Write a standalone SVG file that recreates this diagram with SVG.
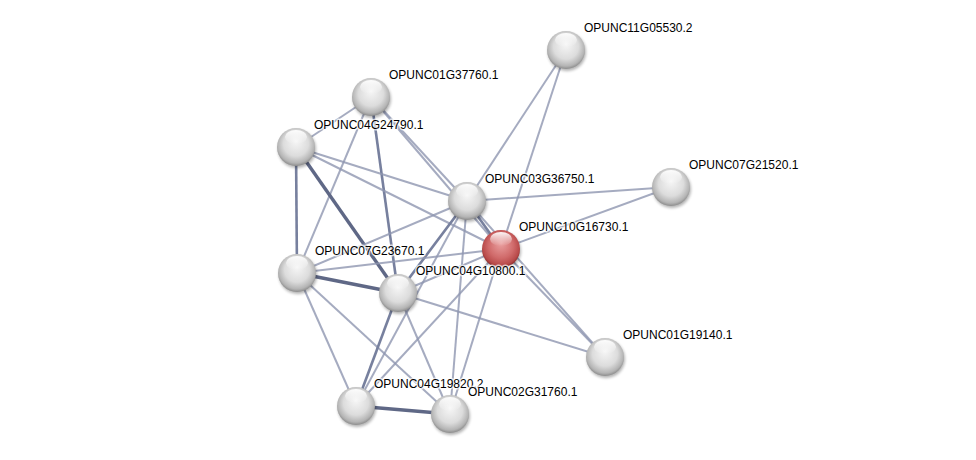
<svg xmlns="http://www.w3.org/2000/svg" width="976" height="460" viewBox="0 0 976 460">
<defs>
<radialGradient id="gBall" cx="50%" cy="45%" r="55%" fx="50%" fy="35%">
<stop offset="0" stop-color="#f6f6f6"/>
<stop offset="0.6" stop-color="#dcdcdc"/>
<stop offset="0.88" stop-color="#b4b4b4"/>
<stop offset="1" stop-color="#8c8c8c"/>
</radialGradient>
<radialGradient id="gRed" cx="50%" cy="45%" r="55%" fx="50%" fy="35%">
<stop offset="0" stop-color="#eaa0a0"/>
<stop offset="0.6" stop-color="#d06a6a"/>
<stop offset="0.88" stop-color="#b84a4a"/>
<stop offset="1" stop-color="#8a2c2c"/>
</radialGradient>
<linearGradient id="gHi" x1="0" y1="0" x2="0" y2="1">
<stop offset="0" stop-color="#ffffff" stop-opacity="0.95"/>
<stop offset="1" stop-color="#ffffff" stop-opacity="0"/>
</linearGradient>
<filter id="sh" x="-50%" y="-50%" width="200%" height="200%">
<feGaussianBlur stdDeviation="1.5"/>
</filter>
</defs>
<style>
.e{stroke:#8e96b0;stroke-width:2;stroke-opacity:0.8;fill:none}
.m{stroke:#77809e;stroke-width:2.6;fill:none}
.t{stroke:#5f6886;stroke-width:3.4;fill:none}
.sh{fill:#000;opacity:0.3;filter:url(#sh)}
.b{fill:url(#gBall)}
.r{fill:url(#gRed)}
.hi{fill:url(#gHi)}
.lb{font-family:"Liberation Sans",Arial,sans-serif;font-size:12px;fill:#000;stroke:#ffffff;stroke-width:3;stroke-opacity:0.7;paint-order:stroke;stroke-linejoin:round}
</style>
<rect width="976" height="460" fill="#ffffff"/>
<g id="edges">
<line class="e" x1="566" y1="50" x2="467" y2="201"/>
<line class="e" x1="566" y1="50" x2="501" y2="249"/>
<line class="e" x1="671" y1="187" x2="467" y2="201"/>
<line class="e" x1="671" y1="187" x2="501" y2="249"/>
<line class="e" x1="605" y1="357" x2="501" y2="249"/>
<line class="e" x1="605" y1="357" x2="467" y2="201"/>
<line class="e" x1="605" y1="357" x2="398" y2="293"/>
<line class="e" x1="371" y1="97" x2="296" y2="147"/>
<line class="e" x1="371" y1="97" x2="297" y2="273"/>
<line class="m" x1="371" y1="97" x2="398" y2="293"/>
<line class="e" x1="371" y1="97" x2="467" y2="201"/>
<line class="e" x1="371" y1="97" x2="501" y2="249"/>
<line class="e" x1="296" y1="147" x2="467" y2="201"/>
<line class="e" x1="296" y1="147" x2="501" y2="249"/>
<line class="t" x1="296" y1="147" x2="398" y2="293"/>
<line class="m" x1="296" y1="147" x2="297" y2="273"/>
<line class="m" x1="467" y1="201" x2="501" y2="249"/>
<line class="e" x1="467" y1="201" x2="297" y2="273"/>
<line class="m" x1="467" y1="201" x2="398" y2="293"/>
<line class="e" x1="467" y1="201" x2="356" y2="406"/>
<line class="e" x1="467" y1="201" x2="450" y2="414"/>
<line class="e" x1="501" y1="249" x2="297" y2="273"/>
<line class="e" x1="501" y1="249" x2="398" y2="293"/>
<line class="e" x1="501" y1="249" x2="356" y2="406"/>
<line class="e" x1="501" y1="249" x2="450" y2="414"/>
<line class="t" x1="297" y1="273" x2="398" y2="293"/>
<line class="e" x1="297" y1="273" x2="356" y2="406"/>
<line class="e" x1="297" y1="273" x2="450" y2="414"/>
<line class="m" x1="398" y1="293" x2="356" y2="406"/>
<line class="e" x1="398" y1="293" x2="450" y2="414"/>
<line class="t" x1="356" y1="406" x2="450" y2="414"/>
</g>
<g id="n11G05530">
<circle class="sh" cx="567" cy="52" r="19"/>
<circle class="b" cx="566" cy="50" r="19"/>
<ellipse class="hi" cx="566" cy="40" rx="11" ry="7"/>
<text class="lb" x="584" y="32">OPUNC11G05530.2</text>
</g>
<g id="n01G37760">
<circle class="sh" cx="372" cy="99" r="19"/>
<circle class="b" cx="371" cy="97" r="19"/>
<ellipse class="hi" cx="371" cy="87" rx="11" ry="7"/>
<text class="lb" x="389" y="79">OPUNC01G37760.1</text>
</g>
<g id="n04G24790">
<circle class="sh" cx="297" cy="149" r="19"/>
<circle class="b" cx="296" cy="147" r="19"/>
<ellipse class="hi" cx="296" cy="137" rx="11" ry="7"/>
<text class="lb" x="314" y="129">OPUNC04G24790.1</text>
</g>
<g id="n03G36750">
<circle class="sh" cx="468" cy="203" r="19"/>
<circle class="b" cx="467" cy="201" r="19"/>
<ellipse class="hi" cx="467" cy="191" rx="11" ry="7"/>
<text class="lb" x="485" y="183">OPUNC03G36750.1</text>
</g>
<g id="n07G21520">
<circle class="sh" cx="672" cy="189" r="19"/>
<circle class="b" cx="671" cy="187" r="19"/>
<ellipse class="hi" cx="671" cy="177" rx="11" ry="7"/>
<text class="lb" x="689" y="169">OPUNC07G21520.1</text>
</g>
<g id="n10G16730">
<circle class="sh" cx="502" cy="251" r="19"/>
<circle class="r" cx="501" cy="249" r="19"/>
<ellipse class="hi" cx="501" cy="239" rx="11" ry="7"/>
<text class="lb" x="519" y="231">OPUNC10G16730.1</text>
</g>
<g id="n07G23670">
<circle class="sh" cx="298" cy="275" r="19"/>
<circle class="b" cx="297" cy="273" r="19"/>
<ellipse class="hi" cx="297" cy="263" rx="11" ry="7"/>
<text class="lb" x="315" y="255">OPUNC07G23670.1</text>
</g>
<g id="n04G10800">
<circle class="sh" cx="399" cy="295" r="19"/>
<circle class="b" cx="398" cy="293" r="19"/>
<ellipse class="hi" cx="398" cy="283" rx="11" ry="7"/>
<text class="lb" x="416" y="275">OPUNC04G10800.1</text>
</g>
<g id="n01G19140">
<circle class="sh" cx="606" cy="359" r="19"/>
<circle class="b" cx="605" cy="357" r="19"/>
<ellipse class="hi" cx="605" cy="347" rx="11" ry="7"/>
<text class="lb" x="623" y="339">OPUNC01G19140.1</text>
</g>
<g id="n04G19820">
<circle class="sh" cx="357" cy="408" r="19"/>
<circle class="b" cx="356" cy="406" r="19"/>
<ellipse class="hi" cx="356" cy="396" rx="11" ry="7"/>
<text class="lb" x="374" y="388">OPUNC04G19820.2</text>
</g>
<g id="n02G31760">
<circle class="sh" cx="451" cy="416" r="19"/>
<circle class="b" cx="450" cy="414" r="19"/>
<ellipse class="hi" cx="450" cy="404" rx="11" ry="7"/>
<text class="lb" x="468" y="396">OPUNC02G31760.1</text>
</g>
</svg>
